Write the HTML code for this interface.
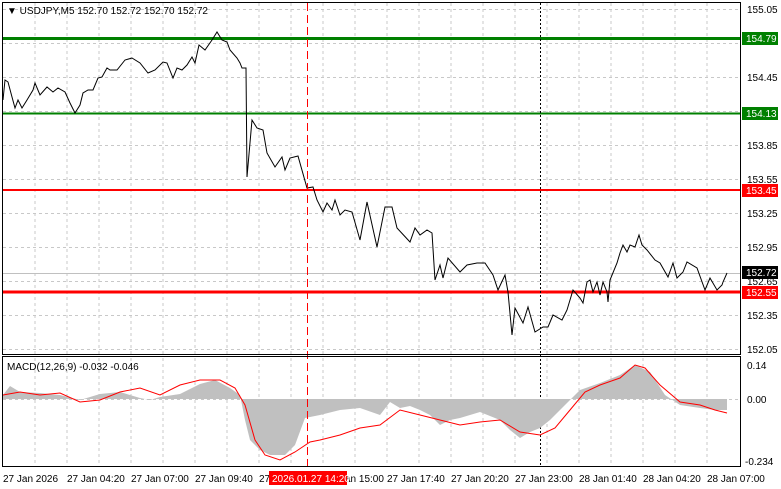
<!DOCTYPE html><html><head><style>body{margin:0;background:#fff;}svg{display:block;font-family:"Liberation Sans",sans-serif;}</style></head><body>
<svg width="781" height="489" xmlns="http://www.w3.org/2000/svg">
<rect width="781" height="489" fill="#fff"/>
<g stroke="#c8c8c8" stroke-dasharray="3,3" stroke-width="1">
<path d="M35 3V354M67 3V354M99 3V354M131 3V354M163 3V354M195 3V354M227 3V354M259 3V354M291 3V354M323 3V354M355 3V354M387 3V354M419 3V354M451 3V354M483 3V354M515 3V354M547 3V354M579 3V354M611 3V354M643 3V354M675 3V354M707 3V354"/>
<path d="M35 358V466M67 358V466M99 358V466M131 358V466M163 358V466M195 358V466M227 358V466M259 358V466M291 358V466M323 358V466M355 358V466M387 358V466M419 358V466M451 358V466M483 358V466M515 358V466M547 358V466M579 358V466M611 358V466M643 358V466M675 358V466M707 358V466"/>
<path d="M3 9.5H740M3 43.5H740M3 77.5H740M3 111.5H740M3 145.5H740M3 179.5H740M3 213.5H740M3 247.5H740M3 281.5H740M3 315.5H740M3 349.5H740M3 399.5H740"/>
</g>
<line x1="3" y1="273.5" x2="740" y2="273.5" stroke="#c0c0c0"/>
<line x1="3" y1="38.5" x2="740" y2="38.5" stroke="#008000" stroke-width="3"/>
<line x1="3" y1="113.5" x2="740" y2="113.5" stroke="#008000" stroke-width="2"/>
<line x1="3" y1="190" x2="740" y2="190" stroke="#ff0000" stroke-width="2"/>
<line x1="3" y1="292" x2="740" y2="292" stroke="#ff0000" stroke-width="3"/>
<line x1="540.5" y1="3" x2="540.5" y2="466" stroke="#000" stroke-dasharray="2,2"/>
<polyline fill="none" stroke="#000" stroke-width="1" points="3,100 5,80 8,82 12,97 15,108 18,100 22,108 27,100 33,90 35,83 40,95 47,87 53,92 58,88 65,92 70,103 75,113 80,105 83,93 88,90 93,90 98,78 102,77 107,68 110,70 117,70 125,60 132,58 140,63 148,73 155,70 163,62 167,63 173,78 177,68 182,70 187,65 192,57 195,63 199,45 205,50 212,40 217,32 222,40 227,42 230,50 237,58 240,63 242,68 246,68 247,177 252,120 257,128 263,130 267,153 275,167 282,157 285,170 290,158 298,156 307,188 313,187 317,200 323,212 327,203 332,210 335,200 340,215 345,210 352,212 360,240 367,202 377,247 385,207 392,207 397,228 410,242 415,228 420,235 427,230 432,233 435,280 440,265 443,278 448,258 460,272 467,265 477,263 485,263 493,275 498,290 505,275 508,292 512,335 515,308 523,323 528,307 535,332 543,327 548,327 553,315 562,320 567,310 573,290 580,298 583,303 587,282 590,280 593,292 597,282 600,295 603,282 607,292 608,302 610,280 617,263 620,253 623,245 627,252 630,245 635,247 639,235 642,245 647,250 655,260 660,263 668,277 673,263 677,278 683,272 687,262 697,268 705,290 710,278 717,290 722,285 723,282 727,273"/>
<polygon fill="#c0c0c0" points="3,399 3,395 10,386 20,392 40,393 60,395 80,400 100,394 120,392 140,398 150,400 160,397 180,394 200,384 215,380 230,388 240,395 245,420 250,440 260,450 270,455 285,455 295,445 305,418 320,415 340,410 360,408 380,415 390,402 400,408 410,406 420,410 430,415 440,425 450,420 460,418 480,412 500,420 510,430 520,438 530,432 540,428 550,420 560,410 570,400 580,390 600,383 620,375 635,365 650,372 665,395 680,405 700,408 715,410 727,410 727,399"/>
<polyline fill="none" stroke="#ff0000" stroke-width="1" points="3,395 20,392 40,395 60,393 80,402 100,400 120,392 140,388 160,395 180,385 200,380 220,380 235,388 245,405 255,440 265,455 280,460 295,452 310,442 320,440 340,435 360,428 380,425 400,410 420,415 440,420 460,425 480,422 500,420 520,432 540,435 555,428 570,410 585,392 600,385 620,378 635,365 645,368 660,385 680,402 700,405 715,410 727,413"/>
<line x1="307.5" y1="3" x2="307.5" y2="466" stroke="#ff0000" stroke-dasharray="8,4"/>
<rect x="2.5" y="2.5" width="738" height="352" fill="none" stroke="#000"/>
<rect x="2.5" y="356.5" width="738" height="110" fill="none" stroke="#000"/>
<g font-size="10" fill="#000">
<text x="7" y="14">▼ USDJPY,M5  152.70 152.72 152.70 152.72</text>
<text x="7" y="370">MACD(12,26,9) -0.032 -0.046</text>
<text x="747" y="13">155.05</text><text x="747" y="81">154.45</text><text x="747" y="149">153.85</text><text x="747" y="183">153.55</text><text x="747" y="217">153.25</text><text x="747" y="251">152.95</text><text x="747" y="285">152.65</text><text x="747" y="319">152.35</text><text x="747" y="353">152.05</text>
<text x="747" y="369">0.14</text><text x="747" y="403">0.00</text><text x="745" y="465">-0.234</text>
</g>
<rect x="742" y="32" width="36" height="13" fill="#008000"/><text x="746" y="42" font-size="10" fill="#fff">154.79</text>
<rect x="742" y="107" width="36" height="13" fill="#008000"/><text x="746" y="117" font-size="10" fill="#fff">154.13</text>
<rect x="742" y="184" width="36" height="13" fill="#ff0000"/><text x="746" y="194" font-size="10" fill="#fff">153.45</text>
<rect x="742" y="266" width="36" height="13" fill="#000"/><text x="746" y="276" font-size="10" fill="#fff">152.72</text>
<rect x="742" y="286" width="36" height="13" fill="#ff0000"/><text x="746" y="296" font-size="10" fill="#fff">152.55</text>
<g font-size="10" fill="#000">
<text x="3" y="482">27 Jan 2026</text><text x="67" y="482">27 Jan 04:20</text><text x="131" y="482">27 Jan 07:00</text><text x="195" y="482">27 Jan 09:40</text><text x="259" y="482">27</text><text x="340" y="482">Jan 15:00</text><text x="387" y="482">27 Jan 17:40</text><text x="451" y="482">27 Jan 20:20</text><text x="515" y="482">27 Jan 23:00</text><text x="579" y="482">28 Jan 01:40</text><text x="643" y="482">28 Jan 04:20</text><text x="707" y="482">28 Jan 07:00</text>
</g>
<rect x="269" y="471" width="78" height="14" fill="#ff0000"/><text x="272" y="482" font-size="10" fill="#fff">2026.01.27 14:20</text>
</svg></body></html>
